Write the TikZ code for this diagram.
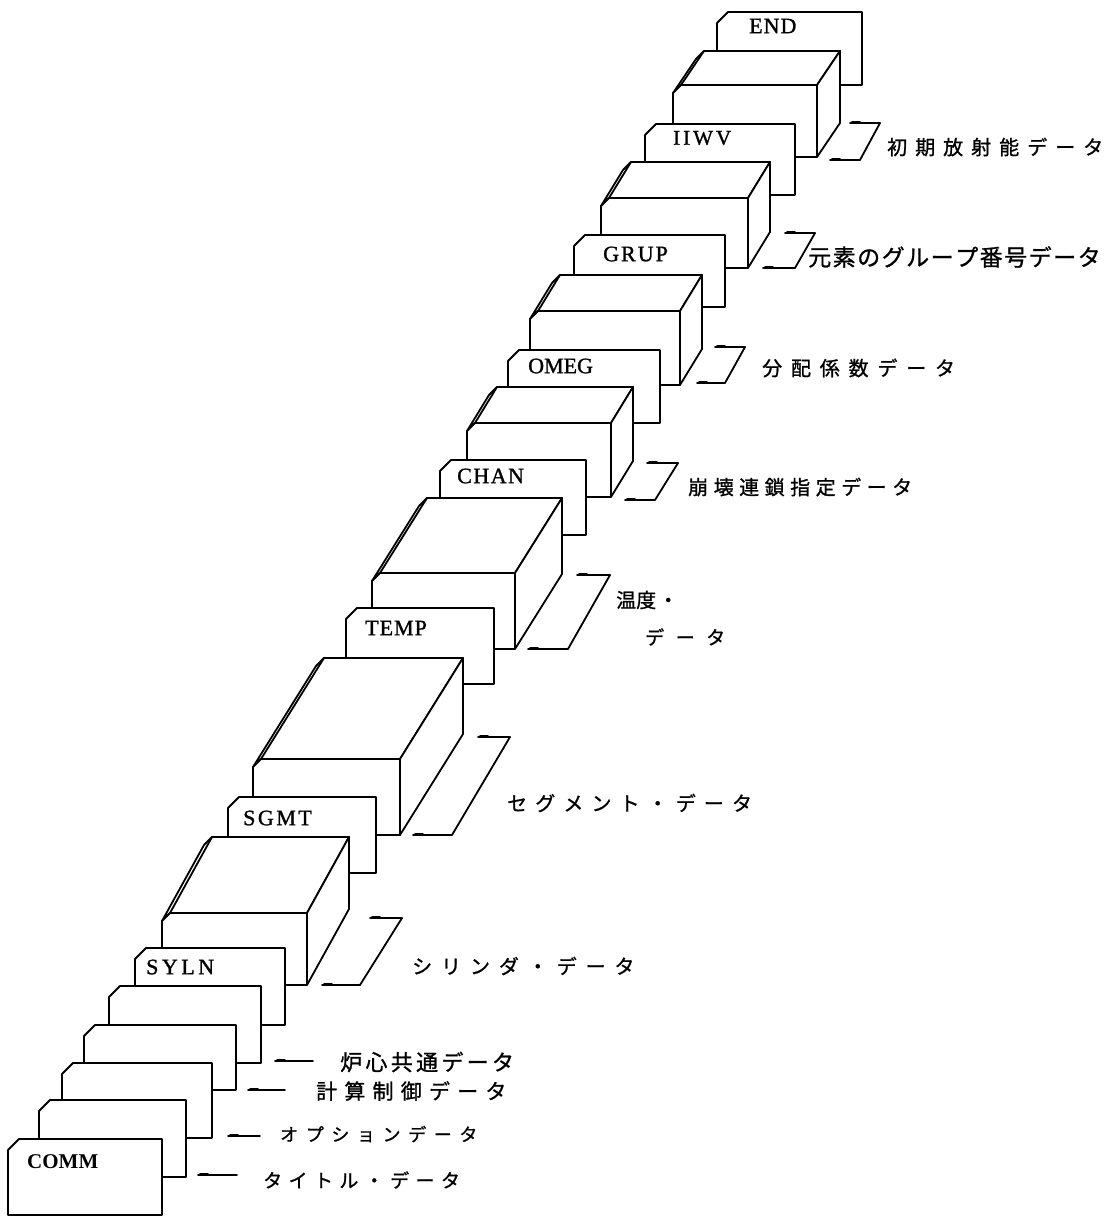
\documentclass[tikz,border=0pt]{standalone}
\usepackage{fontspec}
\setmainfont{Liberation Serif}
\newfontfamily\jp{Noto Sans CJK JP}[FakeBold=1.0]
\newfontfamily\lab{Liberation Serif}[FakeBold=1.2]
\makeatletter
\newcommand\spread[2]{\@tfor\my@ch:=#2\do{\my@ch\hspace{#1}}\unskip}
\makeatother
\tikzset{
  edge/.style={line width=1.8pt, line join=round, line cap=round},
  sheet/.style={edge, fill=white},
  jlab/.style={anchor=west, inner sep=0pt},
  elab/.style={anchor=west, inner sep=0pt},
}
% header card: L T R B
\newcommand\hcard[4]{\draw[sheet] (#1,#2+11) -- (#1+11,#2) -- (#3,#2) -- (#3,#4) -- (#1,#4) -- cycle;}
% deck block: L T R B dx dyup
\newcommand\dblock[6]{%
  \draw[sheet] (#1,#2+8) -- (#1+#5,#2+8-#6) -- (#1+8+#5,#2-#6) -- (#3+#5,#2-#6) -- (#3,#2) -- (#1+8,#2) -- cycle;
  \draw[edge] (#1+8,#2) -- (#1+8+#5,#2-#6);
  \draw[sheet] (#3,#2) -- (#3+#5,#2-#6) -- (#3+#5,#4-#6) -- (#3,#4) -- cycle;
  \draw[sheet] (#1,#2+8) -- (#1+8,#2) -- (#3,#2) -- (#3,#4) -- (#1,#4) -- cycle;}
% bracket: topL topR topY botL botR botY
\newcommand\brk[6]{%
  \draw[edge] (#1,#3) -- (#2,#3) -- (#5,#6) -- (#4,#6);
  \draw[edge, line width=1.3pt] (#1+2,#3-1.5) -- (#1+10,#3-1.5);
  \draw[edge, line width=1.3pt] (#4+2,#6-1.5) -- (#4+10,#6-1.5);}
% dash: x1 x2 y
\newcommand\dsh[3]{%
  \draw[edge] (#1,#3) -- (#2,#3);
  \draw[edge, line width=1.3pt] (#1+2,#3-1.5) -- (#1+10,#3-1.5);}
\begin{document}
\begin{tikzpicture}[x=1pt,y=-1pt]
\fill[white] (0,0) rectangle (1115,1217);
\useasboundingbox (0,0) rectangle (1115,1217);

% back to front
\hcard{717}{12}{862}{85}
\node[elab, font=\lab\fontsize{22}{22}\selectfont] (tend) at (749,26) {\spread{1pt}{END}};
\dblock{673}{85}{817}{157}{23}{34}
\hcard{645}{124}{795}{195}
\node[elab, font=\lab\fontsize{21}{21}\selectfont] (tiiwv) at (673,138) {\spread{3pt}{IIWV}};
\dblock{601}{198}{748}{268}{22}{36}
\hcard{574}{235}{725}{307}
\node[elab, font=\lab\fontsize{22}{22}\selectfont] (tgrup) at (603,254) {\spread{2pt}{GRUP}};
\dblock{530}{311}{680}{385}{22}{36}
\hcard{508}{350}{660}{423}
\node[elab, font=\lab\fontsize{22}{22}\selectfont] (tomeg) at (528,366) {OMEG};
\dblock{467}{423}{611}{497}{22}{36}
\hcard{440}{460}{586}{535}
\node[elab, font=\lab\fontsize{22}{22}\selectfont] (tchan) at (457,476) {\spread{1.5pt}{CHAN}};
\dblock{372}{573}{515}{649}{47}{75}
\hcard{346}{608}{494}{684}
\node[elab, font=\lab\fontsize{22}{22}\selectfont] (ttemp) at (365,628) {\spread{1pt}{TEMP}};
\dblock{253}{759}{400}{835}{63}{101}
\hcard{228}{797}{376}{873}
\node[elab, font=\lab\fontsize{22}{22}\selectfont] (tsgmt) at (243,818) {\spread{2.5pt}{SGMT}};
\dblock{162}{913}{307}{985}{42}{76}
\hcard{135}{948}{285}{1025}
\node[elab, font=\lab\fontsize{22}{22}\selectfont] (tsyln) at (146,967) {\spread{3.5pt}{SYLN}};
\hcard{109}{986}{261}{1063}
\hcard{84}{1025}{236}{1090}
\hcard{62}{1063}{212}{1138}
\hcard{39}{1100}{186}{1177}
\hcard{8}{1139}{162}{1215}
\node[elab, font=\bfseries\fontsize{21}{21}\selectfont] (tcomm) at (27,1162) {COMM};

% brackets
\brk{850}{880}{123}{830}{860}{160}
\brk{785}{815}{233}{763}{795}{268}
\brk{715}{745}{347}{697}{725}{383}
\brk{647}{678}{463}{625}{655}{500}
\brk{577}{610}{575}{528}{568}{649}
\brk{478}{510}{737}{413}{452}{835}
\brk{370}{402}{918}{322}{360}{985}
% dashes
\dsh{275}{313}{1061}
\dsh{248}{285}{1090}
\dsh{228}{260}{1136}
\dsh{198}{237}{1175}

% Japanese labels
\node[jlab, font=\jp\fontsize{20}{20}\selectfont] (liiwv) at (887,147) {\spread{8pt}{初期放射能データ}};
\node[jlab, font=\jp\fontsize{23}{23}\selectfont] (lgrup) at (808,257) {\spread{1.5pt}{元素のグループ番号データ}};
\node[jlab, font=\jp\fontsize{20}{20}\selectfont] (lomeg) at (762,368) {\spread{8.8pt}{分配係数データ}};
\node[jlab, font=\jp\fontsize{20}{20}\selectfont] (lchan) at (688,487) {\spread{5.5pt}{崩壊連鎖指定データ}};
\node[jlab, font=\jp\fontsize{20}{20}\selectfont] (ltemp1) at (616,600) {温度\hspace{2pt}・};
\node[jlab, font=\jp\fontsize{19}{19}\selectfont] (ltemp2) at (645,637) {\spread{11.5pt}{データ}};
\node[jlab, font=\jp\fontsize{20}{20}\selectfont] (lsgmt) at (507,803) {\spread{8.1pt}{セグメント・データ}};
\node[jlab, font=\jp\fontsize{20}{20}\selectfont] (lsyln) at (412,966) {\spread{8.9pt}{シリンダ・データ}};
\node[jlab, font=\jp\fontsize{22}{22}\selectfont] (lcore) at (340,1062) {\spread{3.3pt}{炉心共通データ}};
\node[jlab, font=\jp\fontsize{21}{21}\selectfont] (lcalc) at (316,1091) {\spread{7.2pt}{計算制御データ}};
\node[jlab, font=\jp\fontsize{18}{18}\selectfont] (lopt) at (280,1134) {\spread{7.6pt}{オプションデータ}};
\node[jlab, font=\jp\fontsize{19}{19}\selectfont] (ltitle) at (263,1180) {\spread{6.4pt}{タイトル・データ}};
\end{tikzpicture}
\end{document}
